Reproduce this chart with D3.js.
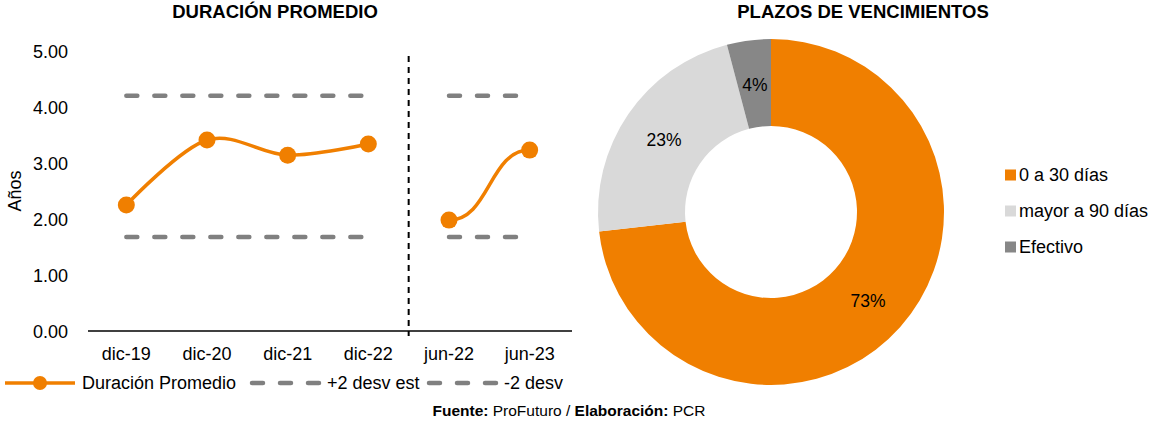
<html>
<head>
<meta charset="utf-8">
<script src="https://d3js.org/d3.v7.min.js"></script>
<style>
body { margin: 0; font-family: Arial, "Liberation Sans", sans-serif; background: #fff; }
svg { display: block; }
text { font-family: Arial, "Liberation Sans", sans-serif; fill: #000; }
.axis path, .axis line { display: none; }
</style>
</head>
<body>
<svg width="1154" height="421"></svg>
<script>

// Duración promedio (años)
var categories = ["dic-19", "dic-20", "dic-21", "dic-22", "jun-22", "jun-23"];
var duracion = [2.25, 3.41, 3.14, 3.34, 1.98, 3.23];
var plus2 = [4.20, 4.20, 4.20, 4.20, 4.20, 4.20];
var minus2 = [1.68, 1.68, 1.68, 1.68, 1.68, 1.68];
var segments = [[0, 3], [4, 5]];   // the two separated groups
var yTicks = [0, 1, 2, 3, 4, 5];

// Plazos de vencimientos (%)
var plazos = ["0 a 30 días", "mayor a 90 días", "Efectivo"];
var plazoValues = [73.2, 22.7, 4.1];
var plazoLabels = ["73%", "23%", "4%"];

var orange = "#F07F00";
var svg = d3.select("svg");

// ---------- left chart ----------
var x = d3.scaleBand().domain(categories).range([86, 570]);
var y = d3.scaleLinear().domain([0, 5]).range([331, 51]);
var cx = d => x(d) + x.bandwidth() / 2;

svg.append("text").attr("x", 275).attr("y", 18).attr("text-anchor", "middle")
    .style("font-weight", "bold").style("font-size", "18.5px").text("DURACIÓN PROMEDIO");

svg.append("g").attr("class", "axis")
    .attr("transform", "translate(71,0)")
    .call(d3.axisLeft(y).tickValues(yTicks).tickFormat(d3.format(".2f")).tickSize(0))
    .selectAll("text").style("font-size", "18px").attr("dy", "0.35em");

svg.append("g").attr("class", "axis")
    .attr("transform", "translate(0,331)")
    .call(d3.axisBottom(x).tickSize(0).tickPadding(16))
    .selectAll("text").style("font-size", "18px");

svg.append("line").attr("x1", 88).attr("x2", 572).attr("y1", y(0)).attr("y2", y(0))
    .attr("stroke", "#000").attr("stroke-width", 1.5);

svg.append("text").attr("transform", "translate(21,191) rotate(-90)")
    .attr("text-anchor", "middle").style("font-size", "18px").text("Años");

// separator between dic-22 and jun-22
var sepX = x("jun-22");
svg.append("line").attr("x1", sepX).attr("x2", sepX).attr("y1", 56).attr("y2", 336)
    .attr("stroke", "#000").attr("stroke-width", 2).attr("stroke-dasharray", "6,5");

var dashLine = d3.line().x(d => cx(d.c)).y(d => y(d.v));
var smooth = d3.line().x(d => cx(d.c)).y(d => y(d.v)).curve(d3.curveCatmullRom.alpha(0));
var smooth2 = d3.line().x(d => cx(d.c)).y(d => y(d.v)).curve(d3.curveBumpX);

segments.forEach(function(s) {
    var idx = d3.range(s[0], s[1] + 1);
    [plus2, minus2].forEach(function(arr) {
        svg.append("path")
            .datum(idx.map(i => ({c: categories[i], v: arr[i]})))
            .attr("d", dashLine).attr("fill", "none")
            .attr("stroke", "#808080").attr("stroke-width", 4.5)
            .attr("stroke-linecap", "round")
            .attr("stroke-dasharray", "11,17");
    });
    var pts = idx.map(i => ({c: categories[i], v: duracion[i]}));
    svg.append("path").datum(pts).attr("d", pts.length > 2 ? smooth : smooth2).attr("fill", "none")
        .attr("stroke", orange).attr("stroke-width", 3.5);
    svg.selectAll(null).data(pts).enter().append("circle")
        .attr("cx", d => cx(d.c)).attr("cy", d => y(d.v)).attr("r", 8.5)
        .attr("fill", orange);
});

// bottom legend
var lg = svg.append("g").attr("transform", "translate(0,383)");
lg.append("line").attr("x1", 5).attr("x2", 75).attr("stroke", orange).attr("stroke-width", 3.5);
lg.append("circle").attr("cx", 40).attr("r", 7).attr("fill", orange);
lg.append("text").attr("x", 82).attr("dy", "0.35em").style("font-size", "18px").text("Duración Promedio");
[[250, "+2 desv est"], [427, "-2 desv"]].forEach(function(e) {
    lg.append("line").attr("x1", e[0] + 2).attr("x2", e[0] + 70).attr("stroke", "#808080")
        .attr("stroke-width", 4.5).attr("stroke-linecap", "round").attr("stroke-dasharray", "11,17");
    lg.append("text").attr("x", e[0] + 77).attr("dy", "0.35em").style("font-size", "18px").text(e[1]);
});

// ---------- right chart ----------
svg.append("text").attr("x", 863).attr("y", 18).attr("text-anchor", "middle")
    .style("font-weight", "bold").style("font-size", "18.5px").text("PLAZOS DE VENCIMIENTOS");

var colors = d3.scaleOrdinal().domain(plazos).range([orange, "#D9D9D9", "#878787"]);
var pie = d3.pie().sort(null);
var arc = d3.arc().innerRadius(86).outerRadius(173);
var arcs = pie(plazoValues);

var donut = svg.append("g").attr("transform", "translate(771,212)");
donut.selectAll("path").data(arcs).enter().append("path")
    .attr("d", arc).attr("fill", (d, i) => colors(plazos[i]));

var labelPos = [[97, 89], [-107, -72], [-16, -127]];
donut.selectAll(".lbl").data(arcs).enter().append("text")
    .attr("x", (d, i) => labelPos[i][0]).attr("y", (d, i) => labelPos[i][1])
    .attr("text-anchor", "middle").attr("dy", "0.35em")
    .style("font-size", "17.5px").text((d, i) => plazoLabels[i]);

var leg = svg.append("g").attr("transform", "translate(1005,175)");
plazos.forEach(function(p, i) {
    var g = leg.append("g").attr("transform", "translate(0," + (i * 36) + ")");
    g.append("rect").attr("x", 0).attr("y", -5.5).attr("width", 11).attr("height", 11).attr("fill", colors(p));
    g.append("text").attr("x", 14).attr("dy", "0.35em").style("font-size", "18px").text(p);
});

// footer
var ft = svg.append("text").attr("x", 569).attr("y", 416).attr("text-anchor", "middle").style("font-size", "15.5px");
ft.append("tspan").style("font-weight", "bold").text("Fuente: ");
ft.append("tspan").text("ProFuturo / ");
ft.append("tspan").style("font-weight", "bold").text("Elaboración: ");
ft.append("tspan").text("PCR");

</script>
</body>
</html>
